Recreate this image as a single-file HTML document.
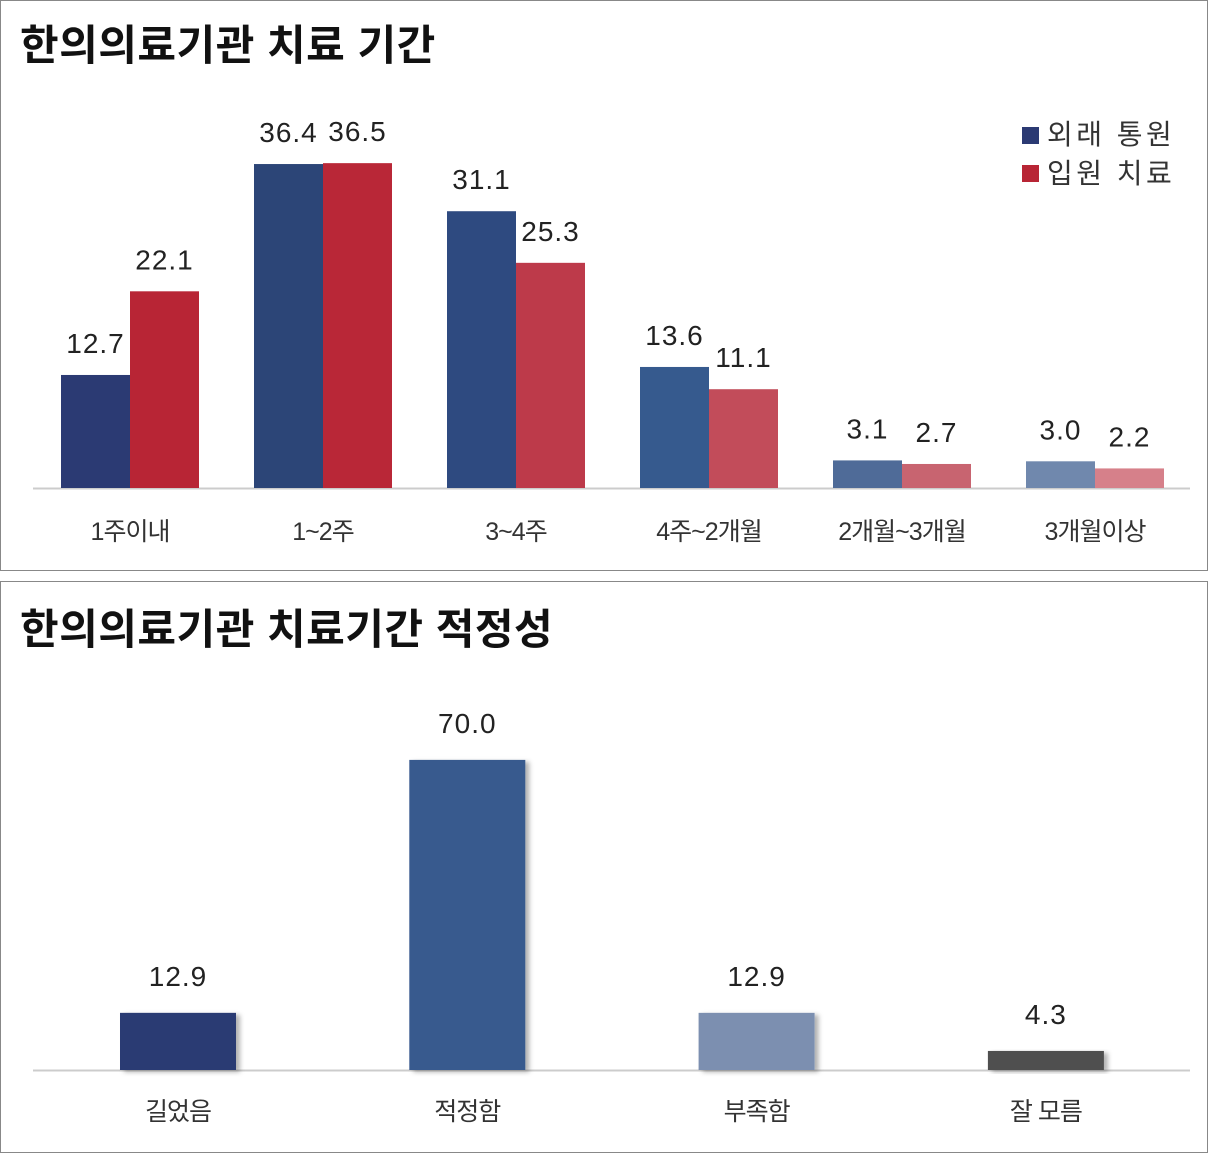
<!DOCTYPE html>
<html><head><meta charset="utf-8"><style>
body{margin:0;width:1209px;height:1154px;background:#fff;overflow:hidden;font-family:"Liberation Sans","Noto Sans CJK KR",sans-serif}
svg text{font-family:"Liberation Sans","Noto Sans CJK KR",sans-serif}
</style></head><body>
<svg id="s" width="1209" height="1154" xmlns="http://www.w3.org/2000/svg">
<defs>
<filter id="sh" x="-10%" y="-10%" width="130%" height="130%"><feDropShadow dx="4" dy="2" stdDeviation="2.5" flood-color="#000" flood-opacity="0.3"/></filter>
</defs>
<rect x="0.5" y="0.5" width="1207" height="570" fill="#fff" stroke="#888"/>
<rect x="0.5" y="581.5" width="1207" height="571" fill="#fff" stroke="#888"/>
<text x="20" y="60" font-size="42" font-weight="bold" fill="#111" letter-spacing="0.5">한의의료기관 치료 기간</text>
<text x="20" y="644" font-size="42" font-weight="bold" fill="#111" letter-spacing="0.5">한의의료기관 치료기간 적정성</text>
<rect x="1022" y="127" width="17" height="17" fill="#2b3a73"/>
<text x="1047" y="144" font-size="28" fill="#333" letter-spacing="3.5">외래 통원</text>
<rect x="1022" y="165" width="17" height="17" fill="#b82535"/>
<text x="1047" y="183" font-size="28" fill="#333" letter-spacing="3.5">입원 치료</text>
<g id="topg"></g><g id="botg"></g>
</svg>
<script>
const cats1 = ["1주이내","1~2주","3~4주","4주~2개월","2개월~3개월","3개월이상"];
const outVals = [12.7,36.4,31.1,13.6,3.1,3.0];
const inVals = [22.1,36.5,25.3,11.1,2.7,2.2];
const cats2 = ["길었음","적정함","부족함","잘 모름"];
const vals2 = [12.9,70.0,12.9,4.3];
const outColors=["#2b3a73","#2c4577","#2e4a80","#365a8e","#4f6b98","#7088ad"];
const inColors=["#b82535","#b92737","#bd3a4a","#c24c5a","#c86470","#d6808a"];
const cols2=["#2b3a73","#375a8e","#7b8fb0","#505050"];
const NS="http://www.w3.org/2000/svg";
function mk(p,t,a,txt){const e=document.createElementNS(NS,t);for(const k in a)e.setAttribute(k,a[k]);if(txt!==undefined)e.textContent=txt;p.appendChild(e);return e;}
const topG=document.getElementById('topg');
const y1=v=>488-v*8.9, x1=i=>61+i*193;
let ax=mk(topG,'line',{x1:33,x2:1190,y1:488.5,y2:488.5,stroke:'#ccc','stroke-width':2});


cats1.forEach((c,i)=>{
 const x=x1(i);
 let b=mk(topG,'rect',{x:x,y:y1(outVals[i]),width:69,height:488-y1(outVals[i]),fill:outColors[i]});
 
 
 b=mk(topG,'rect',{x:x+69,y:y1(inVals[i]),width:69,height:488-y1(inVals[i]),fill:inColors[i]});
 
 
 let t=mk(topG,'text',{x:x+34.5,y:y1(outVals[i])-22,'font-size':28,fill:'#222','text-anchor':'middle','letter-spacing':1},outVals[i].toFixed(1));
 
 
 t=mk(topG,'text',{x:x+103.5,y:y1(inVals[i])-22,'font-size':28,fill:'#222','text-anchor':'middle','letter-spacing':1},inVals[i].toFixed(1));
 
 
 t=mk(topG,'text',{x:x+69,y:540,'font-size':25,fill:'#333','text-anchor':'middle','letter-spacing':-1},c);
 
 
});
const botG=document.getElementById('botg');
const y2=v=>1070-v*4.43, x2=i=>120+i*289.3;
ax=mk(botG,'line',{x1:33,x2:1190,y1:1070.5,y2:1070.5,stroke:'#ccc','stroke-width':2});


cats2.forEach((c,i)=>{
 const x=x2(i);
 let b=mk(botG,'rect',{x:x,y:y2(vals2[i]),width:116,height:1070-y2(vals2[i]),fill:cols2[i],filter:'url(#sh)'});
 
 
 let t=mk(botG,'text',{x:x+58,y:y2(vals2[i])-27,'font-size':28,fill:'#222','text-anchor':'middle','letter-spacing':1},vals2[i].toFixed(1));
 
 
 t=mk(botG,'text',{x:x+58,y:1120,'font-size':25,fill:'#333','text-anchor':'middle','letter-spacing':-1},c);
 
 
});
</script>
</body></html>
